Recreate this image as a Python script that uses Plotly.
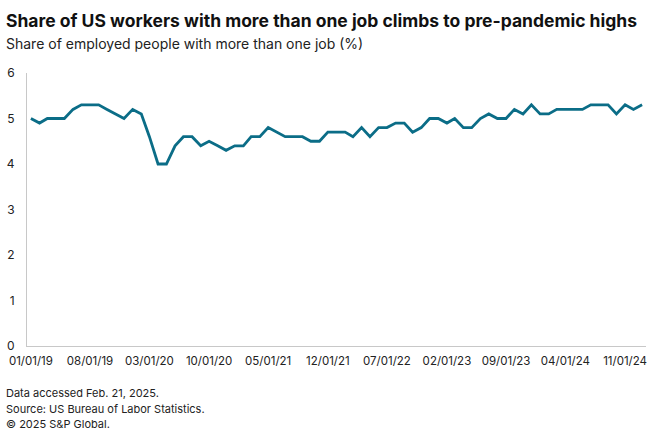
import plotly.graph_objects as go
import pandas as pd

months = pd.date_range("2019-01-01", "2025-01-01", freq="MS")
share = [
    5.0, 4.9, 5.0, 5.0, 5.0, 5.2, 5.3, 5.3, 5.3, 5.2, 5.1, 5.0,   # 2019
    5.2, 5.1, 4.6, 4.0, 4.0, 4.4, 4.6, 4.6, 4.4, 4.5, 4.4, 4.3,   # 2020
    4.4, 4.4, 4.6, 4.6, 4.8, 4.7, 4.6, 4.6, 4.6, 4.5, 4.5, 4.7,   # 2021
    4.7, 4.7, 4.6, 4.8, 4.6, 4.8, 4.8, 4.9, 4.9, 4.7, 4.8, 5.0,   # 2022
    5.0, 4.9, 5.0, 4.8, 4.8, 5.0, 5.1, 5.0, 5.0, 5.2, 5.1, 5.3,   # 2023
    5.1, 5.1, 5.2, 5.2, 5.2, 5.2, 5.3, 5.3, 5.3, 5.1, 5.3, 5.2,   # 2024
    5.3,                                                           # 2025
]
tick_dates = pd.date_range("2019-01-01", "2024-11-01", freq="7MS")
tick_labels = [d.strftime("%m/%d/%y") for d in tick_dates]

title = "Share of US workers with more than one job climbs to pre-pandemic highs"
subtitle = "Share of employed people with more than one job (%)"
notes = ["Data accessed Feb. 21, 2025.", "Source: US Bureau of Labor Statistics.", "© 2025 S&P Global."]

FONT = "Inter"
TOP, BOT = 73, 346

fig = go.Figure(go.Scatter(
    x=months, y=share, mode="lines",
    line=dict(color="#0b6d87", width=2.8),
    hoverinfo="skip",
))

fig.update_layout(
    width=660, height=440,
    margin=dict(l=27, r=14, t=TOP, b=440 - BOT),
    paper_bgcolor="white", plot_bgcolor="white",
    showlegend=False,
    font=dict(family=FONT, color="#222222"),
)
fig.update_xaxes(
    range=["2018-12-18", "2025-01-15"],
    tickvals=list(tick_dates), ticktext=tick_labels,
    showgrid=False, showline=True, linecolor="#c8c8c8", linewidth=1,
    ticks="", tickfont=dict(size=11.5, color="#222222", family=FONT),
    ticklabelstandoff=4, automargin=False,
)
fig.update_yaxes(
    range=[0, 6], dtick=1,
    showgrid=False, showline=True, linecolor="#c8c8c8", linewidth=1,
    ticks="", tickfont=dict(size=12, color="#222222", family=FONT),
    zeroline=False, ticklabelstandoff=9, automargin=False,
)

def add_text(text, y_px, size, bold=False, color="#222222"):
    fig.add_annotation(
        text=("<b>" + text + "</b>") if bold else text,
        xref="paper", x=0, xanchor="left", xshift=-23,
        yref="paper", y=1 - (y_px - TOP) / (BOT - TOP), yanchor="middle",
        showarrow=False, font=dict(size=size, color=color, family=FONT),
    )

add_text(title, 20, 17.5, bold=True, color="#111111")
add_text(subtitle, 44, 14)
for i, n in enumerate(notes):
    add_text(n, 393 + 15.5 * i, 11)

fig.write_html(
    "out.html",
    config={"displayModeBar": False},
    post_script="document.body.style.margin='0';document.body.style.overflow='hidden';",
)
